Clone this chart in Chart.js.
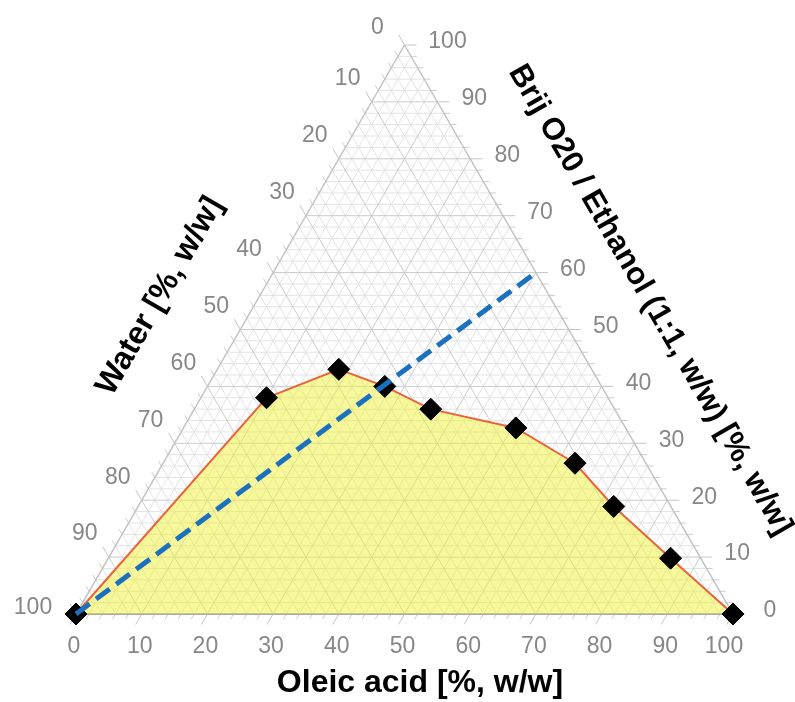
<!DOCTYPE html>
<html><head><meta charset="utf-8">
<script src="https://cdn.jsdelivr.net/npm/chart.js@4.4.1/dist/chart.umd.min.js"></script>
<style>html,body{margin:0;padding:0;background:#fff;}canvas{display:block;}</style>
</head><body>
<canvas id="c" width="795" height="702"></canvas>
<script>
// Phase boundary points (% w/w)
const oleicAcid   = [0, 10, 18.5, 27, 36, 50.6, 62.7, 72.4, 85.6, 100];
const brijEthanol = [0, 38, 43, 40, 36, 32.7, 26.5, 18.9, 9.8, 0];
const water       = [100, 52, 38.5, 33, 28, 16.7, 10.8, 8.7, 4.6, 0];
// Dilution line (water 100 -> oleic:surfactant 40:60)
const dilutionOleic = [0, 40];
const dilutionBrij  = [0, 60];
// Axis ticks
const tickValues = [0, 10, 20, 30, 40, 50, 60, 70, 80, 90, 100];
const tickLabels = ['0', '10', '20', '30', '40', '50', '60', '70', '80', '90', '100'];
const titleBottom = 'Oleic acid [%, w/w]';
const titleLeft = 'Water [%, w/w]';
const titleRight = 'Brij O20 / Ethanol (1:1, w/w) [%, w/w]';

const S3 = Math.sqrt(3) / 2;
const toCart = (o, b) => ({ x: o + b / 2, y: b * S3 });

const boundaryPts = oleicAcid.map((o, i) => toCart(o, brijEthanol[i]));
const dilutionPts = dilutionOleic.map((o, i) => toCart(o, dilutionBrij[i]));

const FONT = '"Liberation Sans", Arial, Helvetica, sans-serif';

const ternaryPlugin = {
  id: 'ternary',
  beforeDatasetsDraw(chart) {
    const ctx = chart.ctx, xs = chart.scales.x, ys = chart.scales.y;
    const P = (o, b) => { const c = toCart(o, b); return [xs.getPixelForValue(c.x), ys.getPixelForValue(c.y)]; };
    const line = (a, b) => { ctx.beginPath(); ctx.moveTo(a[0], a[1]); ctx.lineTo(b[0], b[1]); ctx.stroke(); };
    ctx.save();
    for (let pass = 0; pass < 2; pass++) {
      for (let v = 2; v < 100; v += 2) {
        const major = v % 10 === 0;
        if ((pass === 0) === major) continue;
        ctx.strokeStyle = major ? '#cbcbcb' : '#e3e3e3';
        ctx.lineWidth = 1;
        line(P(0, v), P(100 - v, v));       // Brij const
        line(P(v, 0), P(v, 100 - v));       // oleic const
        line(P(0, 100 - v), P(100 - v, 0)); // water const
      }
    }
    // edge ticks
    for (let v = 0; v <= 100; v += 2) {
      const major = v % 10 === 0;
      const len = major ? 12 : 6;
      ctx.strokeStyle = major ? '#c4c4c4' : '#cdcdcd';
      ctx.lineWidth = 1;
      let p = P(100 - v, v); line(p, [p[0] + len, p[1]]);
      p = P(v, 0); line(p, [p[0] - 0.5 * len, p[1] + S3 * len]);
      p = P(0, 100 - v); line(p, [p[0] - 0.5 * len, p[1] - S3 * len]);
    }
    ctx.strokeStyle = '#c2c2c2'; ctx.lineWidth = 1.5;
    line(P(0, 0), P(0, 100)); line(P(100, 0), P(0, 100));
    ctx.strokeStyle = '#a8a8a8'; ctx.lineWidth = 2;
    line(P(0, 0), P(100, 0));
    ctx.restore();
  },
  afterDraw(chart) {
    const ctx = chart.ctx, xs = chart.scales.x, ys = chart.scales.y;
    const P = (o, b) => { const c = toCart(o, b); return [xs.getPixelForValue(c.x), ys.getPixelForValue(c.y)]; };
    ctx.save();
    ctx.font = '23px ' + FONT;
    ctx.fillStyle = '#878787';
    ctx.textAlign = 'center';
    ctx.textBaseline = 'middle';
    const last = tickValues.length - 1;
    tickValues.forEach((v, i) => {
      const lab = tickLabels[i];
      let p = P(v, 0);
      ctx.fillText(lab, p[0] - (i === last ? 9 : 2), p[1] + 33);
      p = P(100 - v, v);
      ctx.fillText(lab, p[0] + (i === last ? 43 : 37), p[1] - 3);
      p = P(0, 100 - v);
      let dx = -24, dy = -23;
      if (i === 0) { dx = -27; dy = -17; }
      if (i === last) { dx = -43; dy = -6; }
      ctx.fillText(lab, p[0] + dx, p[1] + dy);
    });
    ctx.fillStyle = '#000';
    ctx.font = 'bold 32px ' + FONT;
    ctx.textBaseline = 'middle';
    ctx.fillText(titleBottom, 420, 683);
    ctx.save();
    ctx.translate(160, 296); ctx.rotate(-Math.PI / 3);
    ctx.fillText(titleLeft, 0, 0);
    ctx.restore();
    ctx.font = 'bold 31px ' + FONT;
    ctx.save();
    ctx.translate(650, 300); ctx.rotate(Math.PI / 3);
    ctx.fillText(titleRight, 0, 0);
    ctx.restore();
    ctx.restore();
  }
};

new Chart(document.getElementById('c'), {
  type: 'scatter',
  data: {
    datasets: [
      {
        label: 'Dilution line',
        type: 'line',
        data: dilutionPts,
        borderColor: '#1b71bd',
        borderWidth: 5,
        borderDash: [17, 8],
        pointRadius: 0,
        fill: false,
        clip: false
      },
      {
        label: 'Phase boundary',
        type: 'line',
        data: boundaryPts,
        borderColor: '#e9643d',
        borderWidth: 2,
        backgroundColor: 'rgba(240,240,55,0.5)',
        fill: 'origin',
        tension: 0,
        pointStyle: 'rectRot',
        pointRadius: 11,
        pointBackgroundColor: '#000',
        pointBorderColor: '#000',
        pointBorderWidth: 1,
        clip: false
      }
    ]
  },
  options: {
    responsive: false,
    animation: false,
    devicePixelRatio: 1,
    layout: { padding: { left: 76, right: 62, top: 45, bottom: 88 } },
    scales: {
      x: { type: 'linear', min: 0, max: 100, display: false },
      y: { type: 'linear', min: 0, max: 100 * S3, display: false }
    },
    plugins: { legend: { display: false }, tooltip: { enabled: false } }
  },
  plugins: [ternaryPlugin]
});
</script>
</body></html>
